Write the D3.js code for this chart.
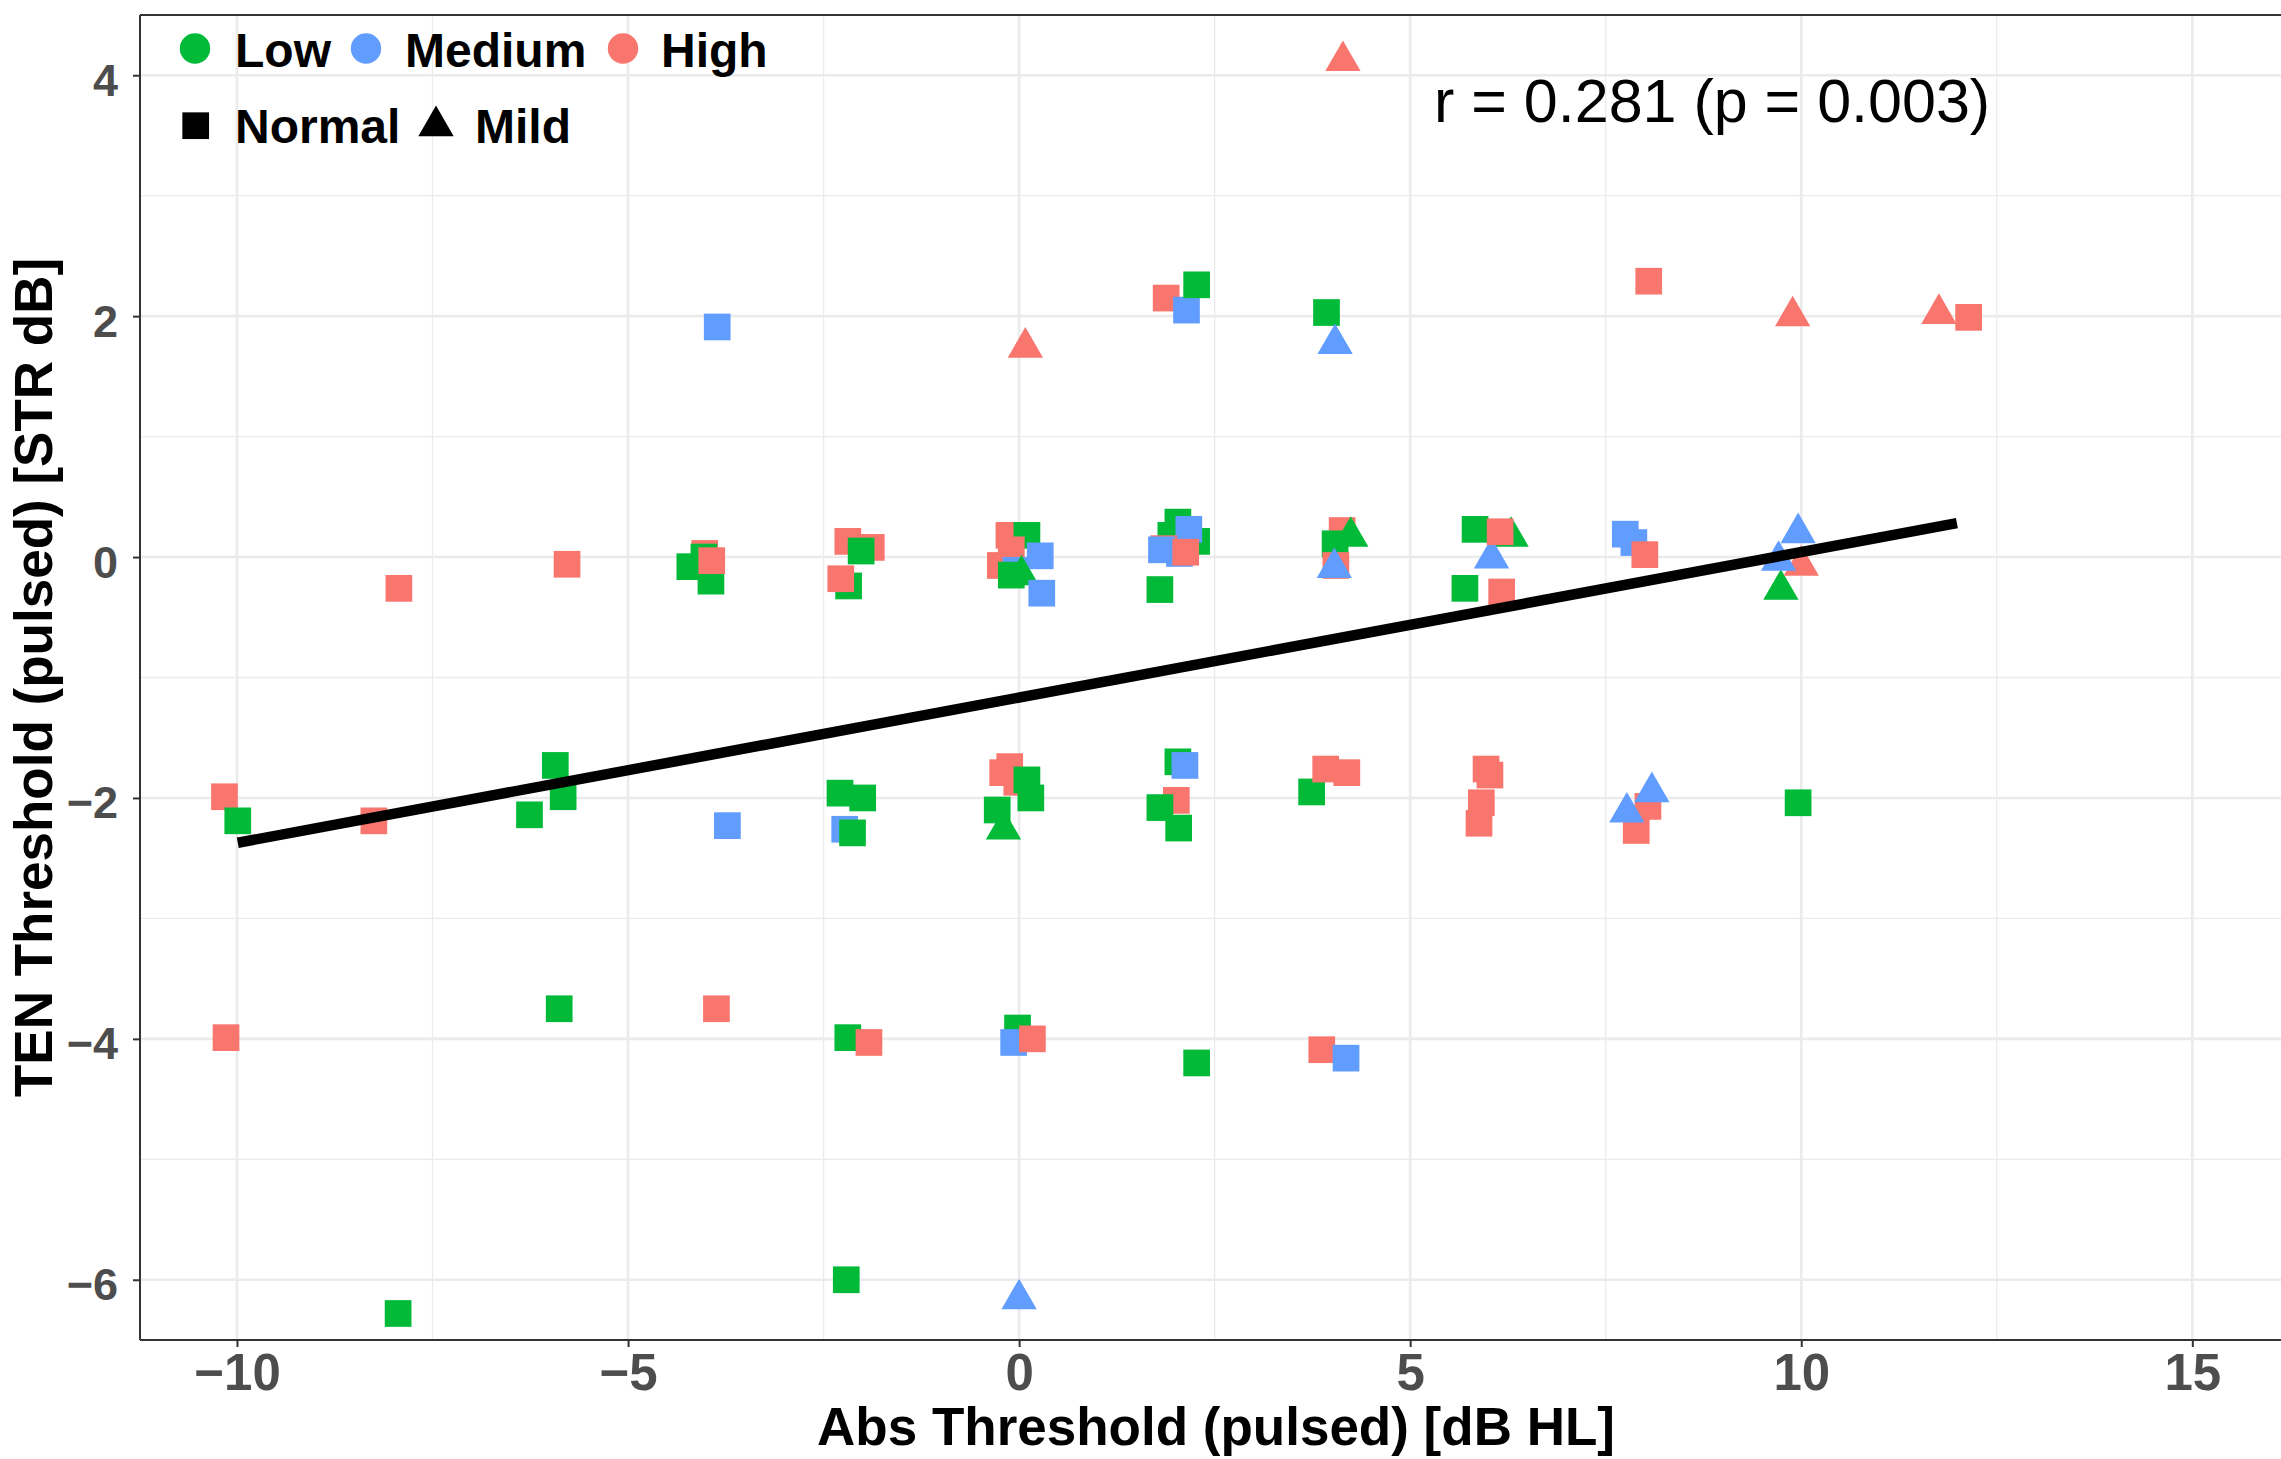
<!DOCTYPE html>
<html>
<head>
<meta charset="utf-8">
<script src="https://cdn.jsdelivr.net/npm/d3@7"></script>
<style>
  html, body { margin: 0; padding: 0; background: #ffffff; }
  svg { display: block; font-family: "Liberation Sans", Arial, Helvetica, sans-serif; }
</style>
</head>
<body>
<svg id="chart" width="2281" height="1459"></svg>
<script>
// ---------------- data ----------------
const absThreshold = [
  -7.93, -5.78, -4.02, -4.21, -4.03, -3.94, -3.93, -2.19, -1.89, -2.02, -2.18, -2.28,
  -0.13, 0.10, -0.10, -0.24, -0.04, -0.10, 0.27, 0.03, 0.29,
  2.03, 1.94, 2.27, 2.17, 1.85, 1.82, 2.05, 2.13, 1.80,
  4.13, 4.24, 4.04, 4.05, 4.03,
  6.29, 6.04, 5.83, 6.15, 5.70, 6.17,
  7.75, 7.86, 8.00,
  9.74, 10.00, 9.71, 9.96,
  4.14, -3.86, 0.08, 1.88, 2.14, 2.27, 3.93, 4.04, 8.05, 9.89, 11.76, 12.14,
  -10.16, -9.99, -8.25, -5.93, -5.83, -6.26, -3.73, -2.29, -2.00, -2.23, -2.13,
  -0.12, -0.21, -0.03, 0.10, 0.15, -0.28, -0.20,
  2.03, 2.12, 2.01, 1.80, 2.04,
  3.74, 3.92, 4.19,
  5.97, 6.02, 5.91, 5.88,
  7.89, 8.04, 7.77, 8.09, 9.96,
  -10.14, -5.88, -3.87, -2.19, -1.92, -0.02, -0.07, 0.17, 2.27, 3.87, 4.18,
  -7.94, -2.21, 0.00
];
const tenThreshold = [
  -0.26, -0.06, 0.03, -0.08, 0.00, -0.20, -0.03, 0.13, 0.08, 0.05, -0.24, -0.18,
  0.18, 0.18, 0.06, -0.07, -0.11, -0.15, 0.01, -0.15, -0.30,
  0.29, 0.18, 0.13, 0.23, 0.07, 0.06, 0.03, 0.04, -0.27,
  0.22, 0.17, 0.11, -0.07, -0.09,
  0.17, -0.01, 0.23, 0.21, -0.26, -0.29,
  0.19, 0.12, 0.02,
  -0.27, -0.07, -0.03, 0.20,
  4.12, 1.91, 1.74, 2.15, 2.05, 2.26, 2.03, 1.77, 2.29, 2.00, 2.02, 1.99,
  -1.99, -2.19, -2.19, -1.73, -1.99, -2.14, -2.23, -1.96, -2.00, -2.26, -2.29,
  -1.74, -1.79, -1.87, -1.85, -2.00, -2.10, -2.26,
  -1.70, -1.73, -2.02, -2.08, -2.25,
  -1.95, -1.76, -1.79,
  -1.76, -1.81, -2.04, -2.21,
  -2.27, -2.07, -2.12, -1.95, -2.04,
  -3.99, -3.75, -3.75, -3.99, -4.03, -3.91, -4.03, -4.00, -4.20, -4.09, -4.16,
  -6.28, -6.00, -6.16
];
const loudness = [
  "High", "High", "High", "Low", "Low", "Low", "High", "High", "High", "Low", "Low", "High",
  "High", "Low", "High", "High", "Medium", "Low", "Medium", "Low", "Medium",
  "Low", "Low", "Low", "Medium", "High", "Medium", "Medium", "High", "Low",
  "High", "Low", "Low", "High", "Medium",
  "Low", "Medium", "Low", "High", "Low", "High",
  "Medium", "Medium", "High",
  "Low", "High", "Medium", "Medium",
  "High", "Medium", "High", "High", "Medium", "Low", "Low", "Medium", "High", "High", "High", "High",
  "High", "Low", "High", "Low", "Low", "Low", "Medium", "Low", "Low", "Medium", "Low",
  "High", "High", "High", "Low", "Low", "Low", "Low",
  "Low", "Medium", "High", "Low", "Low",
  "Low", "High", "High",
  "High", "High", "High", "High",
  "High", "High", "Medium", "Medium", "Low",
  "High", "Low", "High", "Low", "High", "Low", "Medium", "High", "Low", "High", "Medium",
  "Low", "Low", "Medium"
];
const hearing = [
  "Normal", "Normal", "Normal", "Normal", "Normal", "Normal", "Normal", "Normal", "Normal", "Normal", "Normal", "Normal",
  "Normal", "Normal", "Normal", "Normal", "Normal", "Normal", "Normal", "Mild", "Normal",
  "Normal", "Normal", "Normal", "Normal", "Normal", "Normal", "Normal", "Normal", "Normal",
  "Normal", "Mild", "Normal", "Normal", "Mild",
  "Mild", "Mild", "Normal", "Normal", "Normal", "Normal",
  "Normal", "Normal", "Normal",
  "Mild", "Mild", "Mild", "Mild",
  "Mild", "Normal", "Mild", "Normal", "Normal", "Normal", "Normal", "Mild", "Normal", "Mild", "Mild", "Normal",
  "Normal", "Normal", "Normal", "Normal", "Normal", "Normal", "Normal", "Normal", "Normal", "Normal", "Normal",
  "Normal", "Normal", "Normal", "Normal", "Normal", "Normal", "Mild",
  "Normal", "Normal", "Normal", "Normal", "Normal",
  "Normal", "Normal", "Normal",
  "Normal", "Normal", "Normal", "Normal",
  "Normal", "Normal", "Mild", "Mild", "Normal",
  "Normal", "Normal", "Normal", "Normal", "Normal", "Normal", "Normal", "Normal", "Normal", "Normal", "Normal",
  "Normal", "Normal", "Mild"
];

const loudnessLevels = ["Low", "Medium", "High"];
const loudnessColors = ["#00BA38", "#619CFF", "#F8766D"];
const hearingLevels = ["Normal", "Mild"];

const xTicks = [-10, -5, 0, 5, 10, 15];
const yTicks = [-6, -4, -2, 0, 2, 4];
const xMinor = [-7.5, -2.5, 2.5, 7.5, 12.5];
const yMinor = [-5, -3, -1, 1, 3];

// fitted regression line (endpoints)
const fitX = [-9.99, 11.99];
const fitY = [-2.372, 0.281];

const annotationText = "r = 0.281 (p = 0.003)";
const xTitle = "Abs Threshold (pulsed) [dB HL]";
const yTitle = "TEN Threshold (pulsed) [STR dB]";

// ---------------- layout ----------------
const W = 2281, H = 1459;
const panel = { left: 140, right: 2281, top: 15, bottom: 1340 };

const svg = d3.select("#chart");

const x = d3.scaleLinear().domain([-11.24, 16.134]).range([panel.left, panel.right]);
const y = d3.scaleLinear().domain([-6.5, 4.5]).range([panel.bottom, panel.top]);
const color = d3.scaleOrdinal().domain(loudnessLevels).range(loudnessColors);

const sqSize = 26.7 * 26.7;
const triSize = 540;
const shape = d3.scaleOrdinal().domain(hearingLevels).range([d3.symbolSquare, d3.symbolTriangle]);

// background
svg.append("rect").attr("x", 0).attr("y", 0).attr("width", W).attr("height", H).attr("fill", "#ffffff");

const grid = svg.append("g");
// minor grid
grid.selectAll("line.xmin").data(xMinor).join("line")
  .attr("x1", d => x(d)).attr("x2", d => x(d))
  .attr("y1", panel.top).attr("y2", panel.bottom)
  .attr("stroke", "#EBEBEB").attr("stroke-width", 1.3);
grid.selectAll("line.ymin").data(yMinor).join("line")
  .attr("x1", panel.left).attr("x2", panel.right)
  .attr("y1", d => y(d)).attr("y2", d => y(d))
  .attr("stroke", "#EBEBEB").attr("stroke-width", 1.3);
// major grid
grid.selectAll("line.xmaj").data(xTicks).join("line")
  .attr("x1", d => x(d)).attr("x2", d => x(d))
  .attr("y1", panel.top).attr("y2", panel.bottom)
  .attr("stroke", "#EBEBEB").attr("stroke-width", 2.6);
grid.selectAll("line.ymaj").data(yTicks).join("line")
  .attr("x1", panel.left).attr("x2", panel.right)
  .attr("y1", d => y(d)).attr("y2", d => y(d))
  .attr("stroke", "#EBEBEB").attr("stroke-width", 2.6);

// points
const pts = absThreshold.map((v, i) => ({ x: v, y: tenThreshold[i], g: loudness[i], h: hearing[i] }));
svg.append("g").selectAll("path").data(pts).join("path")
  .attr("transform", d => `translate(${x(d.x)},${y(d.y)})`)
  .attr("d", d => d3.symbol().type(shape(d.h)).size(d.h === "Normal" ? sqSize : triSize)())
  .attr("fill", d => color(d.g));

// regression line
svg.append("path")
  .datum(fitX.map((v, i) => [v, fitY[i]]))
  .attr("d", d3.line().x(d => x(d[0])).y(d => y(d[1])))
  .attr("stroke", "#000000").attr("stroke-width", 10.5).attr("fill", "none");

// panel border (top, left) and axes
svg.append("line").attr("x1", panel.left).attr("x2", panel.right).attr("y1", panel.top).attr("y2", panel.top)
  .attr("stroke", "#333333").attr("stroke-width", 2);
svg.append("line").attr("x1", panel.left).attr("x2", panel.left).attr("y1", panel.top).attr("y2", panel.bottom)
  .attr("stroke", "#333333").attr("stroke-width", 2);
svg.append("line").attr("x1", panel.left).attr("x2", panel.right).attr("y1", panel.bottom).attr("y2", panel.bottom)
  .attr("stroke", "#333333").attr("stroke-width", 2);

const fmt = d3.format("d");

// x axis
const xAxis = svg.append("g").attr("transform", `translate(0,${panel.bottom})`)
  .call(d3.axisBottom(x).tickValues(xTicks).tickSize(7).tickSizeOuter(0).tickPadding(14).tickFormat(fmt));
xAxis.select(".domain").remove();
xAxis.selectAll(".tick line").attr("stroke", "#333333").attr("stroke-width", 2);
xAxis.selectAll(".tick text")
  .attr("fill", "#4D4D4D").attr("font-size", 51).attr("font-weight", "bold")
  .attr("font-family", "'Liberation Sans', Arial, sans-serif")
  .attr("dy", null).attr("y", 50);

// y axis
const yAxis = svg.append("g").attr("transform", `translate(${panel.left},0)`)
  .call(d3.axisLeft(y).tickValues(yTicks).tickSize(7).tickSizeOuter(0).tickPadding(15).tickFormat(fmt));
yAxis.select(".domain").remove();
yAxis.selectAll(".tick line").attr("stroke", "#333333").attr("stroke-width", 2);
yAxis.selectAll(".tick text")
  .attr("fill", "#4D4D4D").attr("font-size", 45).attr("font-weight", "bold")
  .attr("font-family", "'Liberation Sans', Arial, sans-serif")
  .attr("dy", null).attr("y", 20);

// axis titles
svg.append("text").attr("x", 1216).attr("y", 1445)
  .attr("text-anchor", "middle").attr("font-size", 53).attr("font-weight", "bold").attr("fill", "#000")
  .text(xTitle);
svg.append("text").attr("transform", `translate(52,${(panel.top + panel.bottom) / 2}) rotate(-90)`)
  .attr("text-anchor", "middle").attr("font-size", 53).attr("font-weight", "bold").attr("fill", "#000")
  .text(yTitle);

// annotation
svg.append("text").attr("x", 1434).attr("y", 122)
  .attr("font-size", 61).attr("fill", "#000")
  .text(annotationText);

// legend
const leg = svg.append("g");
const legRow1 = [
  { label: "Low", cx: 195, tx: 235 },
  { label: "Medium", cx: 366, tx: 405 },
  { label: "High", cx: 623, tx: 661 }
];
legRow1.forEach(d => {
  leg.append("circle").attr("cx", d.cx).attr("cy", 48.5).attr("r", 15.2).attr("fill", color(d.label));
  leg.append("text").attr("x", d.tx).attr("y", 66.5).attr("font-size", 48).attr("font-weight", "bold")
    .attr("fill", "#000").text(d.label);
});
const legRow2 = [
  { label: "Normal", cx: 195.7, tx: 235 },
  { label: "Mild", cx: 436, tx: 475 }
];
legRow2.forEach(d => {
  leg.append("path")
    .attr("transform", `translate(${d.cx},${d.label === "Normal" ? 125.7 : 126})`)
    .attr("d", d3.symbol().type(shape(d.label)).size(d.label === "Normal" ? sqSize : triSize)())
    .attr("fill", "#000");
  leg.append("text").attr("x", d.tx).attr("y", 142.7).attr("font-size", 48).attr("font-weight", "bold")
    .attr("fill", "#000").text(d.label);
});
</script>
</body>
</html>
